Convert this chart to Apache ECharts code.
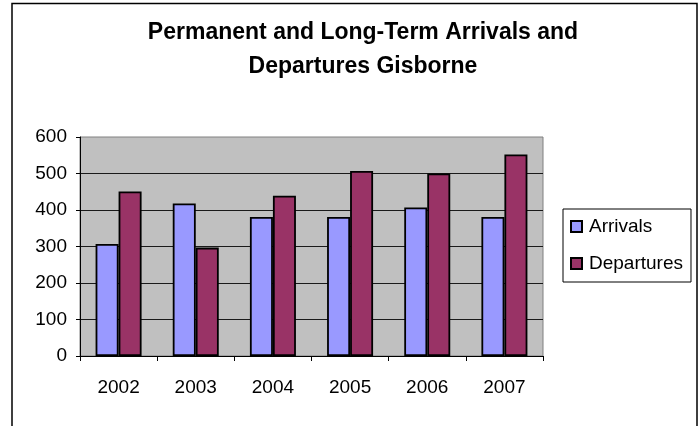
<!DOCTYPE html>
<html>
<head>
<meta charset="utf-8">
<script src="https://cdn.jsdelivr.net/npm/echarts@6/dist/echarts.min.js"></script>
<style>
html,body{margin:0;padding:0;background:#fff;}
#chart{width:698px;height:426px;}
</style>
</head>
<body>
<div id="chart"></div>
<script>
var categories = ['2002', '2003', '2004', '2005', '2006', '2007'];
var arrivals = [307, 418, 381, 381, 407, 381];
var departures = [451, 297, 439, 507, 500, 552];
var yTicks = [0, 100, 200, 300, 400, 500, 600];

var FONT = '"Liberation Sans", Arial, sans-serif';
var chart = echarts.init(document.getElementById('chart'), null, {renderer: 'canvas'});
chart.setOption({
  backgroundColor: '#fff',
  animation: false,
  title: {
    text: 'Permanent and Long-Term Arrivals and\nDepartures Gisborne',
    left: 358,
    top: 11,
    textAlign: 'center',
    textStyle: {fontFamily: FONT, fontSize: 23, fontWeight: 'bold', color: '#000', lineHeight: 34}
  },
  graphic: [{
    type: 'rect',
    shape: {x: 12, y: 3.5, width: 685, height: 440},
    style: {fill: 'none', stroke: '#000', lineWidth: 1.5},
    silent: true
  }],
  legend: {
    orient: 'vertical',
    left: 563,
    top: 209,
    width: 128,
    padding: [8, 8, 9, 7],
    itemGap: 18,
    itemWidth: 11,
    itemHeight: 11,
    borderColor: '#000',
    borderWidth: 1,
    backgroundColor: '#fff',
    icon: 'rect',
    textStyle: {fontFamily: FONT, fontSize: 19, color: '#000', padding: [0, 0, 0, 2]},
    data: ['Arrivals', 'Departures']
  },
  grid: {
    left: 80, right: 155, top: 137, bottom: 70,
    show: true,
    backgroundColor: '#C0C0C0',
    borderColor: '#808080',
    borderWidth: 1
  },
  xAxis: {
    type: 'category',
    data: categories,
    boundaryGap: true,
    axisLine: {lineStyle: {color: '#000', width: 1}},
    axisTick: {show: true, length: 5, lineStyle: {color: '#000'}},
    axisLabel: {fontFamily: FONT, fontSize: 19, color: '#000', margin: 22}
  },
  yAxis: {
    type: 'value',
    min: yTicks[0],
    max: yTicks[yTicks.length - 1],
    interval: 100,
    axisLine: {show: true, lineStyle: {color: '#000', width: 1}},
    axisTick: {show: true, length: 4, lineStyle: {color: '#000'}},
    axisLabel: {fontFamily: FONT, fontSize: 19, color: '#000', margin: 13},
    splitLine: {show: true, showMaxLine: false, lineStyle: {color: '#1a1a1a', width: 1}}
  },
  series: [{
    name: 'Arrivals',
    type: 'bar',
    data: arrivals,
    barWidth: 23,
    barGap: '0%',
    itemStyle: {color: '#9999FF', borderColor: '#000', borderWidth: 1.8}
  }, {
    name: 'Departures',
    type: 'bar',
    data: departures,
    barWidth: 23,
    barGap: '0%',
    itemStyle: {color: '#993366', borderColor: '#000', borderWidth: 1.8}
  }]
});
</script>
</body>
</html>
